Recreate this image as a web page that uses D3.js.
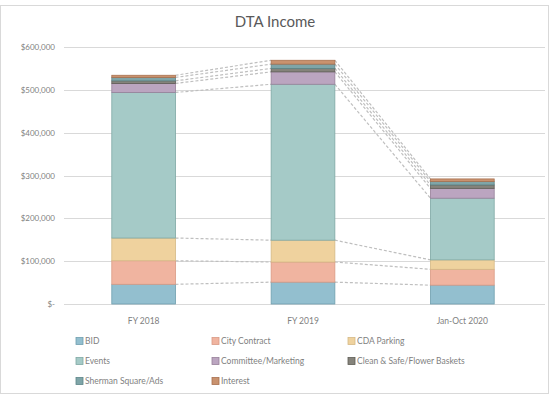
<!DOCTYPE html>
<html><head><meta charset="utf-8">
<script src="https://cdn.jsdelivr.net/npm/d3@7/dist/d3.min.js"></script>
<style>
body{margin:0;background:#fff;}
svg{display:block;font-family:Lato,"Open Sans",sans-serif;}
</style></head><body>
<svg id="c" width="549" height="394"></svg>
<script>
const categories = ["FY 2018", "FY 2019", "Jan-Oct 2020"];
const seriesNames = ["BID","City Contract","CDA Parking","Events","Committee/Marketing","Clean & Safe/Flower Baskets","Sherman Square/Ads","Interest"];
const BID = [46000, 51000, 44000];
const CityContract = [55000, 47000, 37000];
const CDAParking = [53000, 51000, 22000];
const Events = [340000, 364000, 144000];
const CommitteeMarketing = [21000, 29000, 23000];
const CleanSafe = [6000, 8000, 8000];
const ShermanSquare = [8000, 10000, 8000];
const Interest = [5000, 9000, 6000];
const yTicks = [0, 100000, 200000, 300000, 400000, 500000, 600000];
const yTickLabels = ["$-", "$100,000", "$200,000", "$300,000", "$400,000", "$500,000", "$600,000"];

const seriesValues = [BID, CityContract, CDAParking, Events, CommitteeMarketing, CleanSafe, ShermanSquare, Interest];
const colors = ["#93bfcf","#f0b4a0","#efd29e","#a5cac7","#bba5c0","#85837b","#7fa5a8","#c9926f"];
const strokes = ["#6f9fae","#d99a84","#d5b985","#7fa8a4","#978099","#5e5c55","#5d8588","#a8704f"];

const svg = d3.select("#c");
svg.append("rect").attr("x",0.5).attr("y",5.5).attr("width",548).attr("height",388)
  .attr("fill","#fff").attr("stroke","#d9d9d9");

svg.append("text").attr("x",275).attr("y",27).attr("text-anchor","middle")
  .attr("font-size",15).attr("fill","#595959").text("DTA Income");

const y = d3.scaleLinear().domain([0,600000]).range([304,47]);
const x = d3.scaleBand().domain(categories).range([64,542]).paddingInner(0.6).paddingOuter(0.3);

// gridlines
svg.append("g").selectAll("line").data(yTicks).join("line")
  .attr("x1",64).attr("x2",545).attr("y1",d=>Math.round(y(d))+0.5).attr("y2",d=>Math.round(y(d))+0.5)
  .attr("stroke","#d9d9d9").attr("stroke-width",1);

// y axis labels
const yAxis = d3.axisLeft(y).tickValues(yTicks).tickFormat((d,i)=>yTickLabels[i]).tickSize(0).tickPadding(0);
const ga = svg.append("g").attr("transform","translate(55,0)").call(yAxis);
ga.select(".domain").remove();
ga.selectAll("text").attr("font-size",8).attr("fill","#7f7f7f").attr("font-family","Lato,sans-serif");

// stack
const table = categories.map((c,i)=>{const o={cat:c}; seriesNames.forEach((s,j)=>o[s]=seriesValues[j][i]); return o;});
const stacked = d3.stack().keys(seriesNames)(table);

// series lines (dashed)
const sl = svg.append("g");
stacked.forEach(layer=>{
  for(let i=0;i<categories.length-1;i++){
    sl.append("line")
      .attr("x1",x(categories[i])+x.bandwidth()).attr("x2",x(categories[i+1]))
      .attr("y1",y(layer[i][1])).attr("y2",y(layer[i+1][1]))
      .attr("stroke","#bfbfbf").attr("stroke-width",1.2).attr("stroke-dasharray","3,2");
  }
});

// bars
stacked.forEach((layer,j)=>{
  svg.append("g").selectAll("rect").data(layer).join("rect")
    .attr("x",d=>x(d.data.cat)).attr("width",x.bandwidth())
    .attr("y",d=>y(d[1])).attr("height",d=>y(d[0])-y(d[1]))
    .attr("fill",colors[j]).attr("stroke",strokes[j]).attr("stroke-width",0.8);
});

// x labels
const xAxis = d3.axisBottom(x).tickSize(0).tickPadding(0);
const gx = svg.append("g").attr("transform","translate(0,318)").call(xAxis);
gx.select(".domain").remove();
gx.selectAll("text").attr("font-size",8.5).attr("fill","#7f7f7f").attr("font-family","Lato,sans-serif");

// legend
const colX = [76, 212, 348];
const rowY = [341, 361, 381];
const lg = svg.append("g");
seriesNames.forEach((s,i)=>{
  const cx = colX[i%3], cy = rowY[Math.floor(i/3)];
  lg.append("rect").attr("x",cx).attr("y",cy-3.5).attr("width",7).attr("height",7)
    .attr("fill",colors[i]).attr("stroke",strokes[i]).attr("stroke-width",0.8);
  lg.append("text").attr("x",cx+9).attr("y",cy+3).attr("font-size",8.5).attr("fill","#7f7f7f").text(s);
});
</script>
</body></html>
